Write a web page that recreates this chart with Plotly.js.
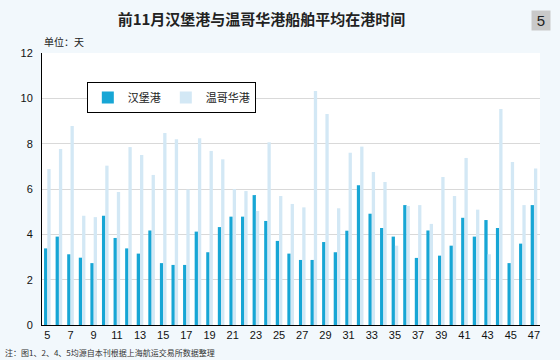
<!DOCTYPE html>
<html>
<head>
<meta charset="utf-8">
<script src="https://cdn.plot.ly/plotly-3.0.1.min.js"></script>
<style>
html,body{margin:0;padding:0;background:#f2f8fc;}
#chart{width:560px;height:360px;}
</style>
</head>
<body>
<div id="chart"></div>
<script>
const weeks = [5,6,7,8,9,10,11,12,13,14,15,16,17,18,19,20,21,22,23,24,25,26,27,28,29,30,31,32,33,34,35,36,37,38,39,40,41,42,43,44,45,46,47];
const hamburg = [3.38,3.90,3.12,2.97,2.73,4.82,3.84,3.38,3.15,4.17,2.73,2.65,2.65,4.12,3.21,4.32,4.78,4.78,5.73,4.59,3.71,3.15,2.87,2.87,3.66,3.21,4.16,6.16,4.91,4.28,3.90,5.29,2.96,4.17,3.06,3.50,4.73,3.90,4.63,4.28,2.73,3.59,5.29];
const vancouver = [6.88,7.76,8.78,4.82,4.76,7.03,5.87,7.85,7.50,6.62,8.47,8.19,5.98,8.24,7.68,7.31,6.00,5.91,5.03,8.06,5.69,5.34,5.19,10.32,9.31,5.15,7.60,7.87,6.75,6.31,3.50,5.25,5.29,4.46,6.53,5.69,7.37,5.09,3.12,9.53,7.19,5.29,6.90];
const xTicks = [5,7,9,11,13,15,17,19,21,23,25,27,29,31,33,35,37,39,41,43,45,47];
const yTicks = [0,2,4,6,8,10,12];
const seriesNames = ['汉堡港','温哥华港'];
const titleText = '前11月汉堡港与温哥华港船舶平均在港时间';
const unitText = '单位：天';
const noteText = '注：图1、2、4、5均源自本刊根据上海航运交易所数据整理';

const font = 'Liberation Sans, Arial, Noto Sans CJK SC, sans-serif';
const cjk = 'Noto Sans CJK SC, sans-serif';

const traces = [
  {type:'bar', x:weeks, y:hamburg, name:seriesNames[0], marker:{color:'#17a6d5'}},
  {type:'bar', x:weeks, y:vancouver, name:seriesNames[1], marker:{color:'#d3e8f5'}}
];

const layout = {
  width:560, height:360,
  paper_bgcolor:'#f2f8fc', plot_bgcolor:'#ffffff',
  margin:{l:42, r:20, t:53, b:35},
  barmode:'group', bargap:0.43, bargroupgap:0,
  title:{text:'<b>'+titleText+'</b>', font:{family:cjk, size:15, color:'#222'}, x:0.467, xanchor:'center', y:0.945, yanchor:'middle'},
  xaxis:{range:[4.54,47.52], tickvals:xTicks, ticktext:xTicks.map(String), showgrid:false, showline:true, linecolor:'#000', linewidth:1, ticks:'', tickfont:{family:font, size:11, color:'#111'}, zeroline:false, fixedrange:true},
  yaxis:{range:[0,12], tickvals:yTicks, showgrid:true, gridcolor:'#d9d9d9', gridwidth:1, showline:true, linecolor:'#000', linewidth:1, ticks:'', ticklabelstandoff:6, tickfont:{family:font, size:11, color:'#111'}, zeroline:false},
  showlegend:true,
  legend:{orientation:'h', x:0.09, y:0.893, xanchor:'left', yanchor:'top', bgcolor:'#ffffff', bordercolor:'#000', borderwidth:1, font:{family:cjk, size:11, color:'#222'}, itemwidth:30, traceorder:'normal'},
  annotations:[
    {text:unitText, xref:'paper', yref:'paper', x:0, y:(360-42-35)/272 , xanchor:'left', yanchor:'middle', showarrow:false, font:{family:cjk, size:10, color:'#222'}},
    {text:'5', xref:'paper', yref:'paper', x:(541-42)/498, y:(325-21)/272, xanchor:'center', yanchor:'middle', showarrow:false, bgcolor:'#c9c9c9', width:16, height:17, font:{family:font, size:15, color:'#222'}},
    {text:noteText, xref:'paper', yref:'paper', x:-39/498, y:-(352-325)/272, xanchor:'left', yanchor:'middle', showarrow:false, font:{family:cjk, size:8, color:'#333'}}
  ]
};

Plotly.newPlot('chart', traces, layout, {displayModeBar:false, staticPlot:true});
</script>
</body>
</html>
